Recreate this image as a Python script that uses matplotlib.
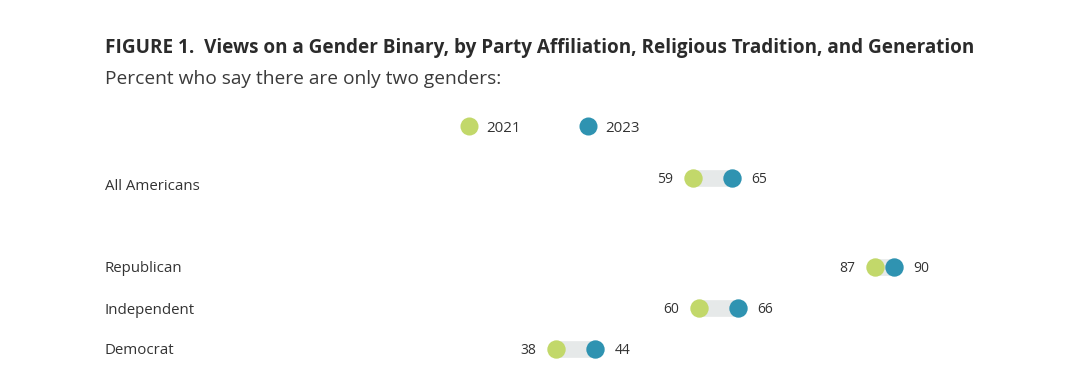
import matplotlib.pyplot as plt
from matplotlib.lines import Line2D

plt.rcParams['font.family'] = ['Open Sans', 'DejaVu Sans']

# data
groups = ['All Americans', 'Republican', 'Independent', 'Democrat']
val_2021 = [59, 87, 60, 38]
val_2023 = [65, 90, 66, 44]
# row positions (blank gap after All Americans)
rows = [0, 2.17, 3.17, 4.17]
label_shift = [0.2, 0.03, 0.05, 0.03]

green = '#c2d86a'
teal = '#2f93b1'
bar_grey = '#e6e9e9'
txt = '#333333'

fig = plt.figure(figsize=(10.8, 3.81), dpi=100)
W, H = 1080, 381

# axes laid out so value 0 -> px 309, value 100 -> px 959
ax = fig.add_axes([309 / W, 0, 650 / W, (381 - 150) / H])
ax.set_xlim(0, 100)
ax.set_ylim((381 - 178) / 41, (150 - 178) / 41)
ax.axis('off')

for y, a, b in zip(rows, val_2021, val_2023):
    ax.plot([a, b], [y, y], color=bar_grey, lw=12, solid_capstyle='round', zorder=1)
ax.scatter(val_2021, rows, s=175, color=green, zorder=3, linewidths=0)
ax.scatter(val_2023, rows, s=175, color=teal, zorder=3, linewidths=0)

for i, (y, a, b) in enumerate(zip(rows, val_2021, val_2023)):
    lo, hi = min(a, b), max(a, b)
    ax.annotate(str(a), (lo, y), xytext=(-14, 0), textcoords='offset points',
                ha='right', va='center_baseline', fontsize=10, color=txt)
    ax.annotate(str(b), (hi, y), xytext=(14, 0), textcoords='offset points',
                ha='left', va='center_baseline', fontsize=10, color=txt)
    ax.annotate(groups[i], (0, y + label_shift[i]), xycoords=('figure fraction', 'data'),
                xytext=(105 * 0.72, 0), textcoords='offset points',
                ha='left', va='center', fontsize=10.8, color=txt)

fig.text(105 / W, 1 - 53 / H, 'FIGURE 1.  Views on a Gender Binary, by Party Affiliation, Religious Tradition, and Generation',
         fontsize=13.55, fontweight='bold', color='#2b2b2b', ha='left', va='baseline')
fig.text(105 / W, 1 - 84 / H, 'Percent who say there are only two genders:',
         fontsize=13.8, color='#3a3a3a', ha='left', va='baseline')

handles = [Line2D([], [], ls='none', marker='o', ms=13, mfc=green, mec='none'),
           Line2D([], [], ls='none', marker='o', ms=13, mfc=teal, mec='none')]
leg = fig.legend(handles, ['2021', '2023'], loc='center', bbox_to_anchor=(550 / W, 1 - 128 / H),
                 ncol=2, frameon=False, fontsize=10.8, handlelength=1.2, handletextpad=0.55,
                 columnspacing=3.9)
for t in leg.get_texts():
    t.set_color(txt)

fig.savefig('out.png', dpi=100, facecolor='white')
